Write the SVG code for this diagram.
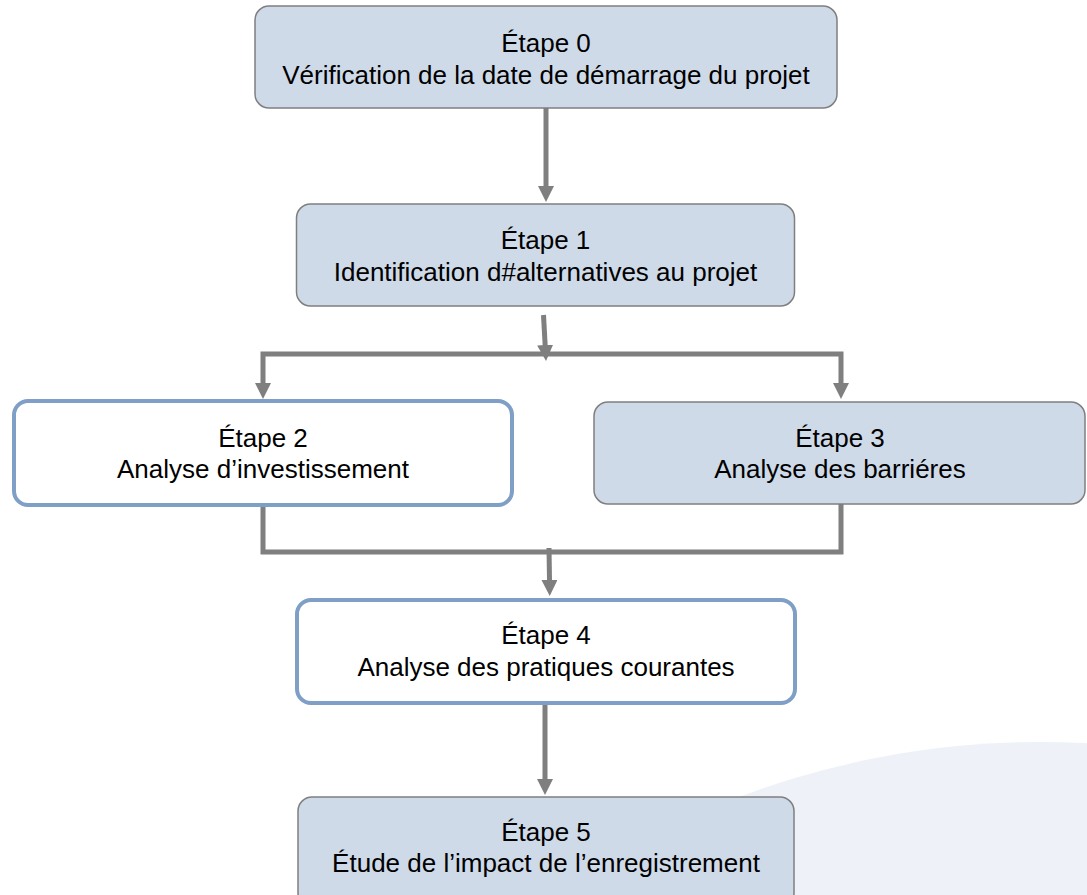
<svg xmlns="http://www.w3.org/2000/svg" width="1087" height="895" viewBox="0 0 1087 895">
<style>
  .box-grey { fill: #cedae8; stroke: #7f7f7f; stroke-width: 1.5; }
  .box-blue { fill: #ffffff; stroke: #7f9fc7; stroke-width: 4; }
  .lbl { font-family: "Liberation Sans", Arial, sans-serif; font-size: 26px; fill: #000000; text-anchor: middle; }
  .conn { fill: none; stroke: #7f7f7f; stroke-width: 5; }
</style>
<defs>
  <marker id="arrow" viewBox="0 0 16 16" refX="1" refY="8" markerWidth="16" markerHeight="16" markerUnits="userSpaceOnUse" orient="auto">
    <path d="M0,0 L16,8 L0,16 z" fill="#7f7f7f"/>
  </marker>
</defs>
<rect width="1087" height="895" fill="#ffffff"/>
<circle cx="1040" cy="1592" r="850" fill="#eef1f8"/>

<g id="connectors">
  <path class="conn" d="M546,108 V187" marker-end="url(#arrow)"/>
  <path class="conn" d="M543.5,315 L545.2,346" marker-end="url(#arrow)"/>
  <path class="conn" d="M546,354 H263 V384" marker-end="url(#arrow)"/>
  <path class="conn" d="M546,354 H841 V384" marker-end="url(#arrow)"/>
  <path class="conn" d="M263,505 V552 H841 V504"/>
  <path class="conn" d="M549,548 L549.5,581" marker-end="url(#arrow)"/>
  <path class="conn" d="M545,703 V780" marker-end="url(#arrow)"/>
</g>

<g id="node0">
  <rect class="box-grey" x="255" y="6" width="582" height="102" rx="14"/>
  <text class="lbl" x="546" y="52">Étape 0</text>
  <text class="lbl" x="546" y="84">Vérification de la date de démarrage du projet</text>
</g>
<g id="node1">
  <rect class="box-grey" x="296.5" y="204" width="498" height="102" rx="14"/>
  <text class="lbl" x="545.5" y="249">Étape 1</text>
  <text class="lbl" x="545.5" y="281">Identification d#alternatives au projet</text>
</g>
<g id="node2">
  <rect class="box-blue" x="14" y="401" width="498" height="104" rx="14"/>
  <text class="lbl" x="263" y="447">Étape 2</text>
  <text class="lbl" x="263" y="478">Analyse d’investissement</text>
</g>
<g id="node3">
  <rect class="box-grey" x="594" y="402" width="491" height="102" rx="14"/>
  <text class="lbl" x="840" y="447">Étape 3</text>
  <text class="lbl" x="840" y="478">Analyse des barriéres</text>
</g>
<g id="node4">
  <rect class="box-blue" x="297" y="600" width="498" height="103" rx="14"/>
  <text class="lbl" x="546" y="644">Étape 4</text>
  <text class="lbl" x="546" y="676">Analyse des pratiques courantes</text>
</g>
<g id="node5">
  <rect class="box-grey" x="298" y="797" width="496" height="110" rx="14"/>
  <text class="lbl" x="546" y="841">Étape 5</text>
  <text class="lbl" x="546" y="872">Étude de l’impact de l’enregistrement</text>
</g>
</svg>
